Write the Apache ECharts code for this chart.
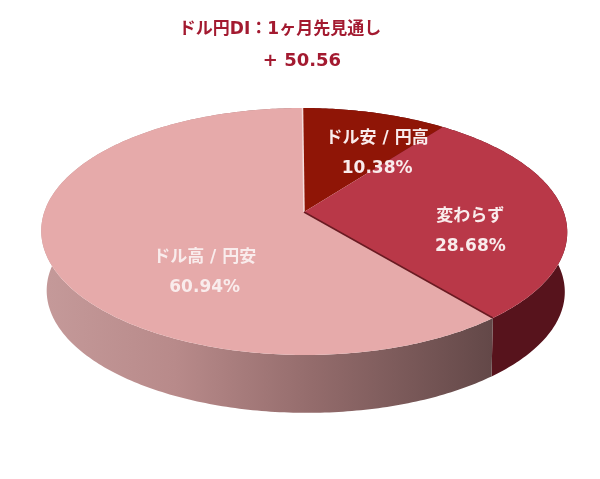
<!DOCTYPE html>
<html><head><meta charset="utf-8">
<style>html,body{margin:0;padding:0;background:#fff}#c{width:600px;height:479px}</style>
<script src="https://cdn.jsdelivr.net/npm/echarts@6/dist/echarts.min.js"></script>
</head><body><div id="c"></div>
<script>
const titleLine = 'ドル円DI：1ヶ月先見通し';
const diValue = '+ 50.56';
const sliceNames = ['ドル安 / 円高', '変わらず', 'ドル高 / 円安'];
const sliceValues = [10.38, 28.68, 60.94];

// Presentation
const topColors = ['#8f1506', '#b93848', '#e6aaaa'];
const sideColors = ['#5a1018', '#57131c', null];
const labelFrac = [0.787, 0.637, 0.355];
const labelRad = [0.621, 0.638, 0.58];
const FONT = '"DejaVu Sans","Noto Sans CJK JP"';

// Perspective disc
const P = {cx: 304, cy: 212, c: 259.7, a: 120.4, b: 0.158, dy: 60, ds: 0.985, dx: 1.5};
function proj(theta, r, lower) {
  const X = r * Math.sin(theta), Y = r * Math.cos(theta);
  const w = 1 + P.b * Y;
  const s = lower ? P.ds : 1;
  return [P.cx + (lower ? P.dx : 0) + s * P.c * X / w - Y * 1.5, P.cy + (lower ? P.dy : 0) - s * P.a * Y / w];
}
const total = sliceValues.reduce((a, b) => a + b, 0);
function range(i) {
  let acc = 0;
  for (let k = 0; k < i; k++) acc += sliceValues[k];
  return [acc / total * 2 * Math.PI, (acc + sliceValues[i]) / total * 2 * Math.PI];
}
function arc(t0, t1, lower) {
  const n = Math.max(2, Math.ceil((t1 - t0) / 0.015)), pts = [];
  for (let j = 0; j <= n; j++) pts.push(proj(t0 + (t1 - t0) * j / n, 1, lower));
  return pts;
}
const pinkSide = {type: 'linear', x: 40, y: 0, x2: 492, y2: 0, global: true, colorStops: [
  {offset: 0, color: '#c59a9a'}, {offset: 0.3, color: '#b88a8a'},
  {offset: 0.6, color: '#946c6c'}, {offset: 1, color: '#634848'}]};

function renderSide(params) {
  const i = params.dataIndex, [t0, t1] = range(i);
  const pts = arc(t0, t1, false).concat(arc(t0, t1, true).reverse());
  return {type: 'polygon', shape: {points: pts}, silent: true,
    style: {fill: sideColors[i] || pinkSide}};
}
function renderTop(params) {
  const i = params.dataIndex, [t0, t1] = range(i);
  const pts = [proj(0, 0)].concat(arc(t0, t1, false));
  const lt = t0 + (t1 - t0) * labelFrac[i];
  const lp = proj(lt, labelRad[i]);
  const textStyle = {fill: '#f9ecec', font: 'bold 17px ' + FONT, align: 'center', verticalAlign: 'middle'};
  return {type: 'group', children: [
    {type: 'polygon', shape: {points: pts}, silent: true, style: {fill: topColors[i]}},
    {type: 'text', z2: 10, silent: true, style: Object.assign({x: lp[0] + 1, y: lp[1] - 13, text: sliceNames[i]}, textStyle)},
    {type: 'text', z2: 10, silent: true, style: Object.assign({x: lp[0] + 1, y: lp[1] + 17, text: sliceValues[i].toFixed(2) + '%'}, textStyle)}
  ]};
}
function renderLines(params) {
  const t = range(params.dataIndex)[0];
  const from = proj(0, 0), to = proj(t, 1);
  const color = params.dataIndex === 0 ? '#f6dcdc' : (params.dataIndex === 2 ? '#6a1a22' : '#a02a30');
  return {type: 'line', silent: true, shape: {x1: from[0], y1: from[1], x2: to[0], y2: to[1]},
    style: {stroke: color, lineWidth: params.dataIndex === 1 ? 0 : 1.5}};
}
const chart = echarts.init(document.getElementById('c'), null, {renderer: 'canvas'});
const rows = sliceNames.map((n, i) => ({name: n, value: sliceValues[i]}));
chart.setOption({
  animation: false,
  backgroundColor: '#fff',
  title: [
    {text: titleLine, left: 275, top: 16, textAlign: 'center',
     textStyle: {color: '#a31a30', fontSize: 17, fontWeight: 'bold', fontFamily: FONT}},
    {text: diValue, left: 297, top: 47, textAlign: 'center',
     textStyle: {color: '#a31a30', fontSize: 18, fontWeight: 'bold', fontFamily: FONT}}
  ],
  series: [
    {type: 'custom', coordinateSystem: 'none', z: 1, data: rows, renderItem: renderSide},
    {type: 'custom', coordinateSystem: 'none', z: 2, data: rows, renderItem: renderTop},
    {type: 'custom', coordinateSystem: 'none', z: 3, data: rows, renderItem: renderLines}
  ]
});
</script></body></html>
